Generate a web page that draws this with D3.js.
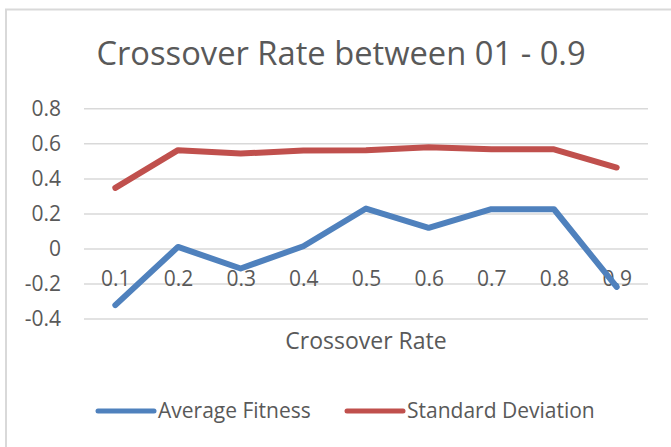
<!DOCTYPE html>
<html>
<head>
<meta charset="utf-8">
<script src="https://cdn.jsdelivr.net/npm/d3@7"></script>
<style>
  body { margin: 0; background: #fff; }
  text { font-family: "Open Sans", sans-serif; fill: #595959; }
</style>
</head>
<body>
<div id="chart"></div>
<script>

// data
const rates = ["0.1", "0.2", "0.3", "0.4", "0.5", "0.6", "0.7", "0.8", "0.9"];
const avgFitness = [-0.323, 0.009, -0.114, 0.013, 0.228, 0.118, 0.224, 0.224, -0.219];
const stdDeviation = [0.346, 0.561, 0.542, 0.559, 0.561, 0.578, 0.566, 0.566, 0.462];
const yTicks = [-0.4, -0.2, 0, 0.2, 0.4, 0.6, 0.8];

const series = [
  {name: "Average Fitness", values: avgFitness, color: "#4f81bd"},
  {name: "Standard Deviation", values: stdDeviation, color: "#c0504d"}
];

// --------------------------------------
//  Margin and canvas
// --------------------------------------

const width = 671;
const height = 447;
const margin = {top: 108.3, right: 23, bottom: 128.4, left: 84};
const innerwidth = width - margin.left - margin.right;
const innerheight = height - margin.top - margin.bottom;

const svg = d3.select("#chart")
  .append("svg")
    .attr("width", width)
    .attr("height", height);

// chart frame (runs off the right and bottom of the picture)
svg.append("rect")
    .attr("x", 6)
    .attr("y", 9.5)
    .attr("width", width + 20)
    .attr("height", height + 20)
    .attr("fill", "none")
    .attr("stroke", "#d9d9d9")
    .attr("stroke-width", 2);

const innerChart = svg
  .append("g")
    .attr("transform", `translate(${margin.left}, ${margin.top})`);

// --------------------------------------
//  Scales
// --------------------------------------

let x = d3.scalePoint()
    .domain(rates)
    .range([0, innerwidth])
    .padding(0.5);

let y = d3.scaleLinear()
    .domain([-0.4, 0.8])
    .range([innerheight, 0]);

// excel style labels, plain hyphen for negatives
const fmt = d => String(+d.toFixed(1));

// --------------------------------------
//  Axes
// --------------------------------------

const yAxis = innerChart.append("g")
    .call(d3.axisLeft(y)
      .tickValues(yTicks)
      .tickSize(-innerwidth)
      .tickPadding(23)
      .tickFormat(fmt));

yAxis.select(".domain").remove();
yAxis.selectAll("line")
    .attr("stroke", "#d9d9d9")
    .attr("stroke-width", 1.5);
yAxis.selectAll("text")
    .attr("font-size", 21)
    .attr("fill", "#595959");

const xAxis = innerChart.append("g")
    .attr("transform", `translate(0, ${y(0)})`)
    .call(d3.axisBottom(x).tickSize(0).tickPadding(23));

xAxis.select(".domain").remove();
xAxis.selectAll("text")
    .attr("font-size", 21)
    .attr("fill", "#595959");

// --------------------------------------
//  Lines
// --------------------------------------

const line = d3.line()
    .x((d, i) => x(rates[i]))
    .y(d => y(d));

innerChart.selectAll(".series")
    .data(series)
    .join("path")
    .attr("class", "series")
    .attr("d", d => line(d.values))
    .attr("fill", "none")
    .attr("stroke", d => d.color)
    .attr("stroke-width", 6)
    .attr("stroke-linejoin", "round")
    .attr("stroke-linecap", "round");

// --------------------------------------
//  Titles
// --------------------------------------

svg.append("text")
    .attr("x", 341)
    .attr("y", 65)
    .attr("text-anchor", "middle")
    .attr("font-size", 32.7)
    .text("Crossover Rate between 01 - 0.9");

svg.append("text")
    .attr("x", margin.left + innerwidth / 2)
    .attr("y", 348.5)
    .attr("text-anchor", "middle")
    .attr("font-size", 23)
    .text("Crossover Rate");

// --------------------------------------
//  Legend
// --------------------------------------

const legendX = [98, 347];

const legend = svg.selectAll(".legend")
    .data(series)
    .join("g")
    .attr("class", "legend")
    .attr("transform", (d, i) => `translate(${legendX[i]}, 411)`);

legend.append("line")
    .attr("x1", 0)
    .attr("x2", 56)
    .attr("stroke", d => d.color)
    .attr("stroke-width", 5)
    .attr("stroke-linecap", "round");

legend.append("text")
    .attr("x", 60)
    .attr("y", 7)
    .attr("font-size", 21)
    .text(d => d.name);

</script>
</body>
</html>
